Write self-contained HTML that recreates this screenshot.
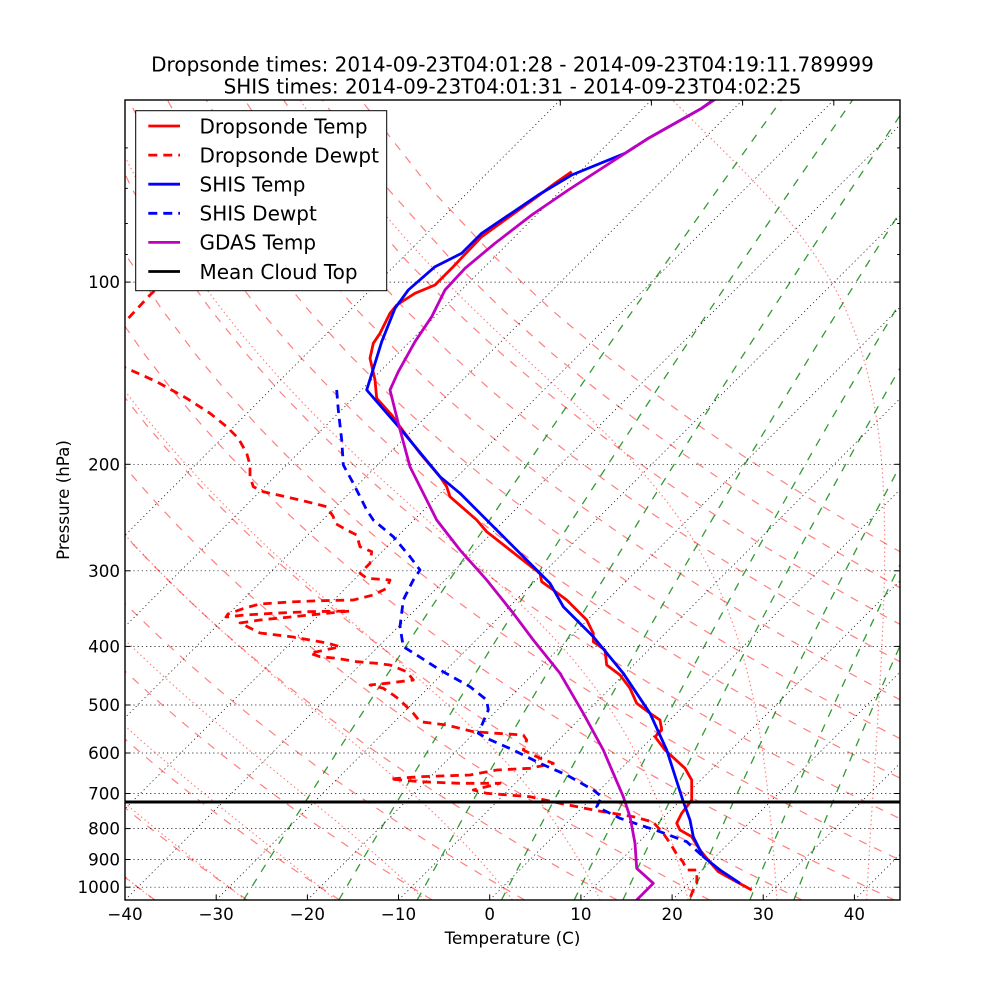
<!DOCTYPE html>
<html>
<head>
<meta charset="utf-8">
<style>
  html, body { margin:0; padding:0; background:#ffffff; }
  svg { display:block; }
  text { font-family: "DejaVu Sans", "Liberation Sans", sans-serif; fill:#000; }
</style>
</head>
<body>
<svg id="chart" width="1000" height="1000" viewBox="0 0 1000 1000" xmlns="http://www.w3.org/2000/svg">
  <defs>
    <clipPath id="plotclip"><rect x="125" y="100" width="775" height="800"/></clipPath>
  </defs>
  <rect x="0" y="0" width="1000" height="1000" fill="#ffffff"/>

  <g id="bg" clip-path="url(#plotclip)"></g>

  <g stroke="#000" stroke-width="0.7" stroke-dasharray="1.2 3" fill="none">
    <line x1="125" y1="282.1" x2="900" y2="282.1"/>
    <line x1="125" y1="464.3" x2="900" y2="464.3"/>
    <line x1="125" y1="570.8" x2="900" y2="570.8"/>
    <line x1="125" y1="646.4" x2="900" y2="646.4"/>
    <line x1="125" y1="705.0" x2="900" y2="705.0"/>
    <line x1="125" y1="753.0" x2="900" y2="753.0"/>
    <line x1="125" y1="793.5" x2="900" y2="793.5"/>
    <line x1="125" y1="828.6" x2="900" y2="828.6"/>
    <line x1="125" y1="859.5" x2="900" y2="859.5"/>
    <line x1="125" y1="887.2" x2="900" y2="887.2"/>
  </g>

  <g clip-path="url(#plotclip)" fill="none" stroke-width="2.8" stroke-linejoin="round">
    <polyline stroke="#ff0000" points="571.7,171.7 555,183.3 535,198.3 481.7,236.7 451.7,268.3 435,285 415,293.3 396.7,305 390,313.3 380,333.3 373.3,343.3 370,358.3 375,380 376.7,398.3 391.7,415 400,426.7 420,453.3 440,476.7 446.7,486.7 450,496.7 476.7,520 486.7,531.7 533.3,568.3 540,573.3 541.7,581.7 553.3,590 566.7,600 586.7,620 593.3,633.3 593.3,641.7 605,650 606.7,665 620,675 630,688.3 636.7,703.3 650,713.3 660,720 661.7,730 655,736.7 665,750 685,768.3 691.7,780 691.7,800 681.7,813.3 676.7,823.3 680,830 691.7,836.7 700,850 706.7,858.3 718.3,871.7 733.3,880 751.7,890"/>
    <polyline stroke="#ff0000" stroke-dasharray="8.5 6" points="165,281 150,295 126.7,320 118,328"/>
    <polyline stroke="#ff0000" stroke-dasharray="8.5 6" points="118,365 126.7,368.3 156.7,381.7 186.7,398.3 210,413.3 226.7,426.7 238.3,438.3 246.7,453.3 250,465 250,476.7 253.3,486.7 263.3,491.7 300,500 326.7,506.7 333.3,516.7 335,523.3 346.7,530 356.7,535 360,546.7 371.7,551.7 370,563.3 360,573.3 366.7,578.3 390,580 386.7,588.3 373.3,595 353.3,600 320,600.7 290,602 260,604 245,608 228,614 226,617 245,615 273,613.3 307,611.7 350,611 300,616 260,620 240,623 260,633 293,637 327,643 340,646.7 310,653.3 320,656.7 336.7,658.3 356.7,661.7 376.7,663.3 390,665 406.7,671.7 413.3,680 386.7,683.3 370,685 383.3,688.3 393.3,695 400,700 406.7,706.7 413.3,713.3 420,721.7 446.7,725 473.3,731.7 496.7,733.3 523.3,735 526.7,740 523.3,750 540,758.3 553.3,763.3 530,768.3 496.7,770 470,775 420,776.7 390,779 420,781.7 460,783.3 500,783.3 473.3,790 486.7,793.3 530,796.7 560,803.3 593.3,810 633.3,816.7 653,822 663,833 670,843 676,853 683,862 686.7,870 697,870 696.7,883.3 693.3,890 690,898"/>
    <polyline stroke="#0000ff" points="716,98 701.7,108.3 648.3,138.3 625,153.3 571.7,175 538.3,195 481.7,233.3 461.7,253.3 435,266.7 408.3,290 395,308.3 381.7,341.7 366.7,390 400,428.3 440,476.7 460,493.3 486.7,520 506.7,540 536.7,570 550,583.3 563.3,606.7 593.3,636.7 623.3,673.3 650,713.3 666.7,750 683.3,801.7 690,820 693.3,836.7 703.3,856.7 720,870 740,883.3"/>
    <polyline stroke="#0000ff" stroke-dasharray="8.5 6" points="336.7,390 338.3,410 341.7,440 343.3,465 353.3,483.3 366.7,510 373.3,520 393.3,536.7 410,556.7 420,570 413.3,580 403.3,600 400,626.7 403.3,646.7 416.7,655 440,670 470,686.7 486.7,700 488.3,710 478.3,733.3 486.7,738.3 513.3,750 540,763.3 566.7,775 593.3,790 601.7,796.7 596.7,806.7 620,818.3 660,831.7 686.7,841.7 703.3,856.7"/>
    <polyline stroke="#bf00bf" points="720,96 701.7,108.3 648.3,138.3 625,153.3 568.3,190 531.7,215 495,243.3 465,268.3 445,290 431.7,316.7 415,341.7 398.3,371.7 390,390 398.3,423.3 410,466.7 436.7,520 460,550 486.7,580 513.3,613.3 533.3,640 560,673.3 583.3,713.3 603.3,750 623.3,796.7 630,816.7 635,843.3 636.7,868.3 653.3,883.3 636.7,900 634,903"/>
    <line x1="125" y1="802" x2="900" y2="802" stroke="#000" stroke-width="3"/>
  </g>

  <rect x="125" y="100" width="775" height="800" fill="none" stroke="#000" stroke-width="1.4"/>

  <g stroke="#000" stroke-width="1">
    <line x1="216.2" y1="900" x2="216.2" y2="894.4"/>
    <line x1="307.4" y1="900" x2="307.4" y2="894.4"/>
    <line x1="398.5" y1="900" x2="398.5" y2="894.4"/>
    <line x1="489.7" y1="900" x2="489.7" y2="894.4"/>
    <line x1="580.9" y1="900" x2="580.9" y2="894.4"/>
    <line x1="672.1" y1="900" x2="672.1" y2="894.4"/>
    <line x1="763.2" y1="900" x2="763.2" y2="894.4"/>
    <line x1="854.4" y1="900" x2="854.4" y2="894.4"/>
    <line x1="560.3" y1="100" x2="560.3" y2="105.6"/>
    <line x1="651.4" y1="100" x2="651.4" y2="105.6"/>
    <line x1="742.6" y1="100" x2="742.6" y2="105.6"/>
    <line x1="833.8" y1="100" x2="833.8" y2="105.6"/>
    <line x1="125" y1="282.1" x2="130.6" y2="282.1"/>
    <line x1="125" y1="464.3" x2="130.6" y2="464.3"/>
    <line x1="125" y1="570.8" x2="130.6" y2="570.8"/>
    <line x1="125" y1="646.4" x2="130.6" y2="646.4"/>
    <line x1="125" y1="705.0" x2="130.6" y2="705.0"/>
    <line x1="125" y1="753.0" x2="130.6" y2="753.0"/>
    <line x1="125" y1="793.5" x2="130.6" y2="793.5"/>
    <line x1="125" y1="828.6" x2="130.6" y2="828.6"/>
    <line x1="125" y1="859.5" x2="130.6" y2="859.5"/>
    <line x1="125" y1="887.2" x2="130.6" y2="887.2"/>
    <line x1="125" y1="147.9" x2="127.8" y2="147.9"/>
    <line x1="125" y1="188.4" x2="127.8" y2="188.4"/>
    <line x1="125" y1="223.5" x2="127.8" y2="223.5"/>
    <line x1="125" y1="254.5" x2="127.8" y2="254.5"/>
    <line x1="900" y1="282.1" x2="894.4" y2="282.1"/>
    <line x1="900" y1="464.3" x2="894.4" y2="464.3"/>
    <line x1="900" y1="570.8" x2="894.4" y2="570.8"/>
    <line x1="900" y1="646.4" x2="894.4" y2="646.4"/>
    <line x1="900" y1="705.0" x2="894.4" y2="705.0"/>
    <line x1="900" y1="753.0" x2="894.4" y2="753.0"/>
    <line x1="900" y1="793.5" x2="894.4" y2="793.5"/>
    <line x1="900" y1="828.6" x2="894.4" y2="828.6"/>
    <line x1="900" y1="859.5" x2="894.4" y2="859.5"/>
    <line x1="900" y1="887.2" x2="894.4" y2="887.2"/>
    <line x1="900" y1="147.9" x2="897.2" y2="147.9"/>
    <line x1="900" y1="188.4" x2="897.2" y2="188.4"/>
    <line x1="900" y1="223.5" x2="897.2" y2="223.5"/>
    <line x1="900" y1="254.5" x2="897.2" y2="254.5"/>
  </g>

  <g font-size="16.7" text-anchor="middle">
    <text x="125" y="920">−40</text>
    <text x="216.2" y="920">−30</text>
    <text x="307.4" y="920">−20</text>
    <text x="398.5" y="920">−10</text>
    <text x="489.7" y="920">0</text>
    <text x="580.9" y="920">10</text>
    <text x="672.1" y="920">20</text>
    <text x="763.2" y="920">30</text>
    <text x="854.4" y="920">40</text>
  </g>
  <g font-size="16.7" text-anchor="end">
    <text x="120" y="288">100</text>
    <text x="120" y="470.3">200</text>
    <text x="120" y="576.8">300</text>
    <text x="120" y="652.4">400</text>
    <text x="120" y="711">500</text>
    <text x="120" y="759">600</text>
    <text x="120" y="799.5">700</text>
    <text x="120" y="834.6">800</text>
    <text x="120" y="865.5">900</text>
    <text x="120" y="893.2">1000</text>
  </g>

  <text x="512.5" y="944" font-size="16.7" text-anchor="middle">Temperature (C)</text>
  <text transform="translate(69,500) rotate(-90)" font-size="16.7" text-anchor="middle">Pressure (hPa)</text>

  <text x="512.5" y="71.5" font-size="20" text-anchor="middle">Dropsonde times: 2014-09-23T04:01:28 - 2014-09-23T04:19:11.789999</text>
  <text x="512.5" y="93.5" font-size="20" text-anchor="middle">SHIS times: 2014-09-23T04:01:31 - 2014-09-23T04:02:25</text>

  <g>
    <rect x="135.7" y="110.7" width="251" height="180" fill="#ffffff" stroke="#000" stroke-width="1"/>
    <g fill="none" stroke-width="2.8">
      <line x1="148.3" y1="126" x2="180" y2="126" stroke="#ff0000"/>
      <line x1="148.3" y1="155.1" x2="180" y2="155.1" stroke="#ff0000" stroke-dasharray="9 6"/>
      <line x1="148.3" y1="184.2" x2="180" y2="184.2" stroke="#0000ff"/>
      <line x1="148.3" y1="213.3" x2="180" y2="213.3" stroke="#0000ff" stroke-dasharray="9 6"/>
      <line x1="148.3" y1="242.4" x2="180" y2="242.4" stroke="#bf00bf"/>
      <line x1="148.3" y1="271.5" x2="180" y2="271.5" stroke="#000000"/>
    </g>
    <g font-size="20">
      <text x="199.5" y="133.3">Dropsonde Temp</text>
      <text x="199.5" y="162.4">Dropsonde Dewpt</text>
      <text x="199.5" y="191.5">SHIS Temp</text>
      <text x="199.5" y="220.6">SHIS Dewpt</text>
      <text x="199.5" y="249.7">GDAS Temp</text>
      <text x="199.5" y="278.8">Mean Cloud Top</text>
    </g>
  </g>
</svg>

<script>
(function(){
  var NS = "http://www.w3.org/2000/svg";
  var g = document.getElementById("bg");
  var LOG21 = Math.log(21)/Math.LN10;
  function Y(p){ return 100 + 800*(Math.log(p/50)/Math.LN10)/LOG21; }
  function X(T, y){ return 125 + (T+40)*775/85 + (900 - y); }
  function addPath(d, stroke, width, dash){
    var e = document.createElementNS(NS, "path");
    e.setAttribute("d", d);
    e.setAttribute("fill", "none");
    e.setAttribute("stroke", stroke);
    e.setAttribute("stroke-width", width);
    if (dash) e.setAttribute("stroke-dasharray", dash);
    g.appendChild(e);
  }
  function ptsToD(pts){
    var s = "";
    for (var i=0;i<pts.length;i++){
      var y = Y(pts[i][0]);
      var x = X(pts[i][1], y);
      s += (i===0 ? "M" : "L") + x.toFixed(2) + "," + y.toFixed(2);
    }
    return s;
  }
  var plin = [];
  for (var i=0;i<50;i++){ plin.push(1050 - i*(1000/49)); }

  for (var T0=-40; T0<=130; T0+=10){
    var pts = [];
    for (var i=0;i<plin.length;i++){
      var p = plin[i];
      pts.push([p, (T0+273.15)*Math.pow(p/1000, 0.2857) - 273.15]);
    }
    addPath(ptsToD(pts), "rgba(255,0,0,0.5)", 1.2, "8.3 8.3");
  }

  var Rd=287.04749, Lv=2.50084e6, Cp=1004.6662, eps=0.6219569;
  function es(T){ return 6.112*Math.exp(17.67*(T-273.15)/(T-29.65)); }
  function f(p, T){
    var e = es(T); var r = eps*e/(p-e);
    if (!(r>0) || r>1) r = 0;
    return (Rd*T + Lv*r)/(Cp + Lv*Lv*r*eps/(Rd*T*T))/p;
  }
  function integ(T0, p0, p1, n){
    var out=[[p0,T0]], p=p0, T=T0, dp=(p1-p0)/n;
    for (var k=0;k<n;k++){
      var k1=f(p,T), k2=f(p+dp/2,T+dp/2*k1), k3=f(p+dp/2,T+dp/2*k2), k4=f(p+dp,T+dp*k3);
      T += dp/6*(k1+2*k2+2*k3+k4); p += dp;
      out.push([p,T]);
    }
    return out;
  }
  for (var T0=-40; T0<=40; T0+=10){
    var up = integ(T0+273.15, 1000, 50, 300);
    var dn = integ(T0+273.15, 1000, 1050, 20);
    var all = dn.reverse().concat(up.slice(1));
    var pts = all.map(function(a){ return [a[0], a[1]-273.15]; });
    addPath(ptsToD(pts), "rgba(255,0,0,0.5)", 1.2, "1.4 3");
  }

  var ws = [0.0004, 0.001, 0.002, 0.004, 0.007, 0.01, 0.016, 0.024, 0.032];
  for (var j=0;j<ws.length;j++){
    var w = ws[j], pts=[];
    for (var i=0;i<plin.length;i++){
      var p = plin[i];
      var e = p*w/(eps+w);
      var v = Math.log(e/6.112);
      pts.push([p, 243.5*v/(17.67-v)]);
    }
    addPath(ptsToD(pts), "rgba(0,128,0,0.8)", 1.3, "8.3 8.3");
  }

  for (var T=-80; T<=40; T+=10){
    var d = "M" + X(T,900).toFixed(2) + ",900L" + X(T,100).toFixed(2) + ",100";
    addPath(d, "#000000", 0.7, "1.2 3");
  }
})();
</script>
</body>
</html>
